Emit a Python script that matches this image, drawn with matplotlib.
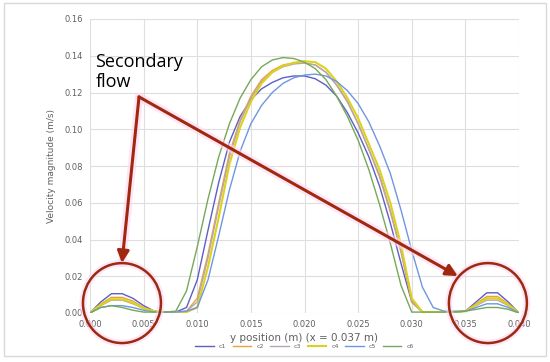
import numpy as np
import matplotlib
matplotlib.use('Agg')
import matplotlib.pyplot as plt
from matplotlib.patches import Ellipse, Rectangle

# y position (m), one point per mm
y_pos = np.arange(41) / 1000.0

c1 = [0, 0.006, 0.0105, 0.0105, 0.008, 0.004, 0.001, 0.0005, 0.0005, 0.003, 0.018,
      0.045, 0.071, 0.093, 0.107, 0.116, 0.122, 0.1255, 0.128, 0.129, 0.129,
      0.1275, 0.124, 0.118, 0.109, 0.098, 0.085, 0.069, 0.049, 0.027, 0.006,
      0.0005, 0.0005, 0.0005, 0.0005, 0.001, 0.006, 0.011, 0.011, 0.006, 0]
c2 = [0, 0.005, 0.0085, 0.0085, 0.0065, 0.003, 0.001, 0.0005, 0.0005, 0.001, 0.008,
      0.032, 0.06, 0.087, 0.105, 0.118, 0.127, 0.132, 0.135, 0.136, 0.136,
      0.135, 0.131, 0.124, 0.115, 0.103, 0.089, 0.074, 0.055, 0.033, 0.006,
      0.0005, 0.0005, 0.0005, 0.0005, 0.001, 0.005, 0.009, 0.009, 0.005, 0]
c3 = [0, 0.004, 0.007, 0.007, 0.005, 0.0025, 0.001, 0.0005, 0.0005, 0.001, 0.006,
      0.03, 0.058, 0.085, 0.104, 0.117, 0.126, 0.131, 0.134, 0.1355, 0.136,
      0.135, 0.131, 0.124, 0.115, 0.103, 0.089, 0.075, 0.056, 0.034, 0.007,
      0.0005, 0.0005, 0.0005, 0.0005, 0.001, 0.004, 0.007, 0.007, 0.004, 0]
c4 = [0, 0.0045, 0.0075, 0.0075, 0.0055, 0.0025, 0.001, 0.0005, 0.0005, 0.0005, 0.003,
      0.025, 0.052, 0.081, 0.101, 0.115, 0.125, 0.131, 0.1345, 0.1362, 0.137,
      0.1365, 0.133, 0.126, 0.117, 0.106, 0.092, 0.078, 0.06, 0.037, 0.008,
      0.0005, 0.0005, 0.0005, 0.0005, 0.001, 0.0045, 0.008, 0.008, 0.0045, 0]
c5 = [0, 0.003, 0.004, 0.004, 0.003, 0.0015, 0.0005, 0.0005, 0.0005, 0.001, 0.003,
      0.018, 0.042, 0.067, 0.088, 0.103, 0.113, 0.12, 0.125, 0.128, 0.1295,
      0.13, 0.129, 0.126, 0.121, 0.114, 0.104, 0.091, 0.076, 0.056, 0.034,
      0.014, 0.003, 0.001, 0.001, 0.001, 0.003, 0.005, 0.005, 0.003, 0]
c6 = [0, 0.003, 0.004, 0.003, 0.0015, 0.0005, 0.0005, 0.0005, 0.001, 0.012, 0.036,
      0.062, 0.085, 0.103, 0.117, 0.127, 0.134, 0.1377, 0.139, 0.1385, 0.1365,
      0.133, 0.127, 0.118, 0.107, 0.094, 0.078, 0.059, 0.038, 0.015, 0.0005,
      0.0005, 0.0005, 0.0005, 0.0005, 0.001, 0.002, 0.003, 0.003, 0.002, 0]

series = {'c1': c1, 'c2': c2, 'c3': c3, 'c4': c4, 'c5': c5, 'c6': c6}
colors = {'c1': '#5b5fc7', 'c2': '#e8a33c', 'c3': '#b4a6b4',
          'c4': '#dcd21e', 'c5': '#6f96e0', 'c6': '#76a85a'}
widths = {'c1': 1.0, 'c2': 1.0, 'c3': 1.0, 'c4': 1.5, 'c5': 1.0, 'c6': 1.0}

fig = plt.figure(figsize=(5.5, 3.62), dpi=100)
ax = fig.add_axes([90 / 550, 1 - 313 / 362, 429 / 550, 294 / 362])

for name, vals in series.items():
    ax.plot(y_pos, vals, color=colors[name], lw=widths[name], label=name)

ax.set_xlim(0, 0.04)
ax.set_ylim(0, 0.16)
ax.set_xticks(np.arange(0, 0.0401, 0.005))
ax.set_yticks(np.arange(0, 0.161, 0.02))
ax.xaxis.set_major_formatter(plt.FormatStrFormatter('%.3f'))
ax.yaxis.set_major_formatter(plt.FormatStrFormatter('%.2f'))
ax.grid(True, color='#dedede', lw=0.8)
ax.set_axisbelow(True)
for s in ax.spines.values():
    s.set_visible(False)
ax.tick_params(length=0, labelsize=6, colors='#606060', pad=5)
ax.set_ylabel('Velocity magnitude (m/s)', fontsize=6.5, color='#606060', labelpad=6)
ax.set_xlabel('y position (m) (x = 0.037 m)', fontsize=7.5, color='#606060', labelpad=3)
ax.legend(loc='upper center', bbox_to_anchor=(0.5, -0.085), ncol=6, frameon=False,
          fontsize=4.5, handlelength=3, columnspacing=1.0, labelcolor='#606060')

# annotations
red = '#a0280f'
start = (0.00457, 0.1176)
tips = [(0.00298, 0.0272), (0.0343, 0.0201)]
for tip in tips:
    ax.plot([start[0], tip[0]], [start[1], tip[1]], color='#ffd6f2', lw=6,
            alpha=0.6, solid_capstyle='round', zorder=4)
    ax.annotate('', xy=tip, xytext=start,
                arrowprops=dict(arrowstyle='-|>,head_length=0.7,head_width=0.35',
                                color=red, lw=2.2, shrinkA=0, shrinkB=0,
                                mutation_scale=10), zorder=6)

for cx in [0.00298, 0.0371]:
    ax.add_patch(Ellipse((cx, 0.0054), 0.00727, 0.0435, fill=False, ec='#ffd6f2',
                         lw=5, alpha=0.6, clip_on=False, zorder=4))
    ax.add_patch(Ellipse((cx, 0.0054), 0.00727, 0.0435, fill=False, ec='#9a2a10',
                         lw=1.8, clip_on=False, zorder=6))

ax.text(0.0005, 0.1415, 'Secondary\nflow', fontsize=13, family='Open Sans',
        va='top', ha='left', linespacing=1.15, zorder=7)

fig.patches.append(Rectangle((4 / 550, 1 - 356 / 362), 542 / 550, 353 / 362,
                             transform=fig.transFigure, fill=False, ec='#d9d9d9', lw=1))

fig.savefig('out.png', dpi=100)
